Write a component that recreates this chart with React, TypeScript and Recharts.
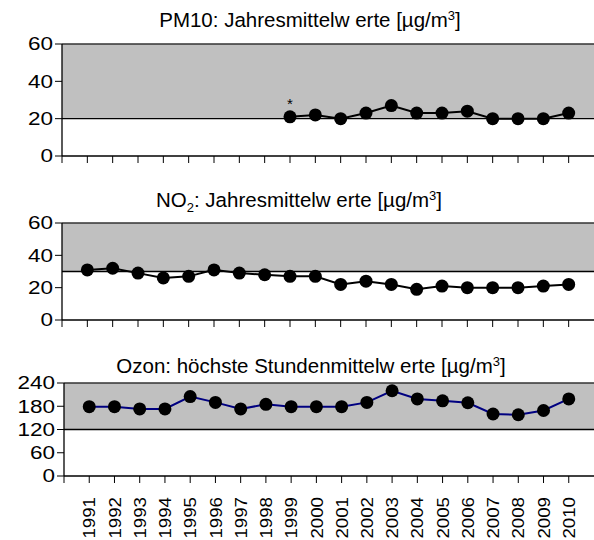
import React from "react";
import { LineChart, Line, XAxis, YAxis, ReferenceArea, ReferenceLine, LabelList } from "recharts";

const FONT = "'Liberation Sans', Arial, sans-serif";

const years = [1991, 1992, 1993, 1994, 1995, 1996, 1997, 1998, 1999, 2000, 2001, 2002, 2003, 2004, 2005, 2006, 2007, 2008, 2009, 2010];
const xTicks = [1990, ...years];

const pm10Years = [1999, 2000, 2001, 2002, 2003, 2004, 2005, 2006, 2007, 2008, 2009, 2010];
const pm10Values = [21, 22, 20, 23, 27, 23, 23, 24, 20, 20, 20, 23];
const pm10Notes = ["*", "", "", "", "", "", "", "", "", "", "", ""];
const no2Values = [31, 32, 29, 26, 27, 31, 29, 28, 27, 27, 22, 24, 22, 19, 21, 20, 20, 20, 21, 22];
const ozonValues = [179, 179, 173, 173, 205, 190, 173, 185, 179, 179, 179, 190, 220, 199, 194, 189, 160, 158, 169, 199];

const pm10Ticks = [0, 20, 40, 60];
const no2Ticks = [0, 20, 40, 60];
const ozonTicks = [0, 60, 120, 180, 240];

const pm10Band = [20, 60];
const no2Band = [30, 60];
const ozonBand = [120, 240];

const pm10Data = pm10Years.map((year, i) => ({ year, v: pm10Values[i], note: pm10Notes[i] }));
const no2Data = years.map((year, i) => ({ year, v: no2Values[i] }));
const ozonData = years.map((year, i) => ({ year, v: ozonValues[i] }));

const YTick = (props: any) => {
  const { x, y, payload } = props;
  return (
    <g transform={`translate(${x},${y}) scale(1.25,1)`}>
      <text x={0} y={0} dy="0.36em" textAnchor="end" fontSize={18} fill="#000" fontFamily={FONT}>
        {payload.value}
      </text>
    </g>
  );
};

const NoTick = () => <g />;

const YearTick = (props: any) => {
  const { x, y, payload } = props;
  if (payload.value < years[0]) return <g />;
  return (
    <g transform={`translate(${x},${y}) rotate(-90) scale(1.1,1)`}>
      <text x={0} y={0} dy="0.36em" textAnchor="end" fontSize={17} fill="#000" fontFamily={FONT}>
        {payload.value}
      </text>
    </g>
  );
};

interface PanelProps {
  data: any[];
  top: number;
  height: number;
  marginTop: number;
  axisWidth: number;
  xHeight: number;
  yTicks: number[];
  band: number[];
  color: string;
  yearLabels?: boolean;
  notes?: boolean;
}

const Panel = ({ data, top, height, marginTop, axisWidth, xHeight, yTicks, band, color, yearLabels, notes }: PanelProps) => (
  <div style={{ position: "absolute", left: 0, top }}>
    <LineChart width={594} height={height} data={data} margin={{ top: marginTop, right: 0, left: 0, bottom: 0 }}>
      <ReferenceArea y1={band[0]} y2={band[1]} fill="#c0c0c0" fillOpacity={1} stroke="none" />
      <ReferenceLine y={band[0]} stroke="#000" strokeWidth={1.3} />
      <ReferenceLine y={band[1]} stroke="#333" strokeWidth={1.3} />
      <XAxis
        dataKey="year"
        type="number"
        domain={[1990, 2011]}
        ticks={xTicks}
        interval={0}
        height={xHeight}
        tickSize={7}
        tickMargin={14}
        axisLine={{ stroke: "#000", strokeWidth: 1.3 }}
        tickLine={{ stroke: "#000" }}
        tick={yearLabels ? YearTick : NoTick}
      />
      <YAxis
        type="number"
        domain={[yTicks[0], yTicks[yTicks.length - 1]]}
        ticks={yTicks}
        interval={0}
        width={axisWidth}
        tickSize={7}
        tickMargin={2}
        axisLine={{ stroke: "#000", strokeWidth: 1.3 }}
        tickLine={{ stroke: "#000" }}
        tick={YTick}
      />
      <Line
        dataKey="v"
        stroke={color}
        strokeWidth={2}
        dot={{ r: 6.5, fill: "#000", stroke: "#000", strokeWidth: 0 }}
        isAnimationActive={false}
      >
        {notes && <LabelList dataKey="note" position="top" offset={8} fontSize={15} fill="#000" fontFamily={FONT} />}
      </Line>
    </LineChart>
  </div>
);

const Titles = () => (
  <svg width={594} height={540} style={{ position: "absolute", left: 0, top: 0, pointerEvents: "none" }}>
    <g fontFamily={FONT} fontSize={20.5} fill="#000" textAnchor="middle">
      <text x={310} y={27}>
        PM10: Jahresmittelw erte [µg/m<tspan fontSize={13} dy={-7}>3</tspan><tspan dy={7}>]</tspan>
      </text>
      <text x={299} y={207}>
        NO<tspan fontSize={13} dy={5}>2</tspan><tspan dy={-5}>: Jahresmittelw erte [µg/m</tspan>
        <tspan fontSize={13} dy={-7}>3</tspan><tspan dy={7}>]</tspan>
      </text>
      <text x={311} y={373}>
        Ozon: höchste Stundenmittelw erte [µg/m<tspan fontSize={13} dy={-7}>3</tspan><tspan dy={7}>]</tspan>
      </text>
    </g>
  </svg>
);

export default function App() {
  return (
    <div style={{ position: "absolute", left: 0, top: 0, width: 594, height: 540, background: "#fff", overflow: "hidden" }}>
      <Panel data={pm10Data} top={0} height={166} marginTop={44} axisWidth={62} xHeight={10} yTicks={pm10Ticks} band={pm10Band} color="#000" notes />
      <Panel data={no2Data} top={180} height={150} marginTop={43} axisWidth={62} xHeight={10} yTicks={no2Ticks} band={no2Band} color="#000" />
      <Panel data={ozonData} top={340} height={200} marginTop={43} axisWidth={64} xHeight={64} yTicks={ozonTicks} band={ozonBand} color="#000080" yearLabels />
      <Titles />
    </div>
  );
}
